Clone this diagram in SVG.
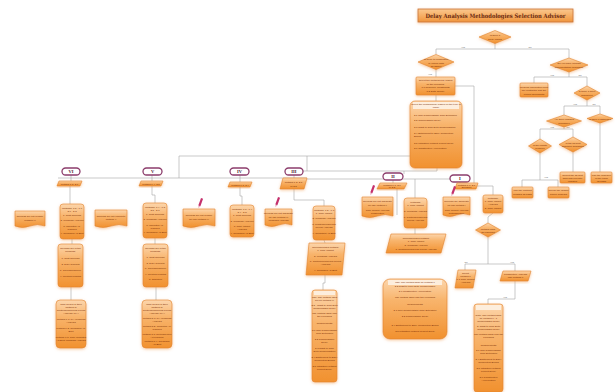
<svg xmlns="http://www.w3.org/2000/svg" width="615" height="392" viewBox="0 0 615 392">
<defs>
<linearGradient id="g" x1="0" y1="0" x2="0" y2="1"><stop offset="0" stop-color="#fcd6ad"/><stop offset="0.35" stop-color="#f8b46c"/><stop offset="1" stop-color="#f1912f"/></linearGradient>
<linearGradient id="gt" x1="0" y1="0" x2="0" y2="1"><stop offset="0" stop-color="#fbc88f"/><stop offset="1" stop-color="#f0953c"/></linearGradient>
<filter id="sh" x="-30%" y="-30%" width="160%" height="160%"><feDropShadow dx="0" dy="1" stdDeviation="1.4" flood-color="#f2a25a" flood-opacity="0.6"/></filter>
<g id="pen"><rect x="-1.1" y="-6" width="2.2" height="8" fill="#c4306c"/><polygon points="-1.1,2 1.1,2 0,4.5" fill="#e8b0c0"/></g>
</defs>
<style>
.n{fill:url(#g);stroke:#e0842f;stroke-width:0.6;filter:url(#sh)}
.l{fill:none;stroke:#a4a4a4;stroke-width:0.6}
.o{fill:#fff;stroke:#8c3d6c;stroke-width:1.3}
.t{font-family:"Liberation Sans",Arial,sans-serif;font-size:2.5px;fill:#7a2c04;text-anchor:middle}
.tl{font-family:"Liberation Sans",Arial,sans-serif;font-size:2.5px;fill:#7a2c04;text-anchor:start}
.r{font-family:"Liberation Serif","Times New Roman",serif;font-size:4.5px;font-weight:bold;fill:#4a2030;text-anchor:middle}
.y{font-family:"Liberation Sans",Arial,sans-serif;font-size:2.4px;fill:#666;text-anchor:middle}
</style>

<g id="connectors">
<polyline class="l" points="495,43.5 495,49"/>
<polyline class="l" points="436,54.5 436,49 569,49 569,58"/>
<polyline class="l" points="436,69.5 436,77"/>
<polyline class="l" points="436,95 436,101"/>
<polyline class="l" points="455,86 474,86 474,183"/>
<polyline class="l" points="569,72 569,77"/>
<polyline class="l" points="534,83 534,77 587,77 587,86"/>
<polyline class="l" points="587,100 587,106"/>
<polyline class="l" points="564,115 564,106 600,106 600,114"/>
<polyline class="l" points="564,127 564,129"/>
<polyline class="l" points="540,139 540,129 573,129 573,137"/>
<polyline class="l" points="540,153 540,180"/>
<polyline class="l" points="522,187 522,180 558,180 558,187"/>
<polyline class="l" points="573,152 573,172"/>
<polyline class="l" points="600,123 600,172"/>
<polyline class="l" points="410,156 179,156 179,178"/>
<polyline class="l" points="58,178 307,178"/>
<polyline class="l" points="307,156 307,171"/>
<polyline class="l" points="303,171 437,171 437,168"/>
<polyline class="l" points="307,179 455,179"/>
<polyline class="l" points="404,174 404,171"/>
<polyline class="l" points="71,175 71,181"/>
<polyline class="l" points="70,186 70,204"/>
<polyline class="l" points="72,239 72,244"/>
<polyline class="l" points="71,287 71,300"/>
<polyline class="l" points="152,175 152,181"/>
<polyline class="l" points="152,186 152,195 155,195 155,203"/>
<polyline class="l" points="155,238 155,244"/>
<polyline class="l" points="156,287 156,300"/>
<polyline class="l" points="240,175 240,182"/>
<polyline class="l" points="240,187 240,196 242,196 242,205"/>
<polyline class="l" points="294,175 294,178"/>
<polyline class="l" points="294,189 294,200 324,200 324,206"/>
<polyline class="l" points="324,240 325,243"/>
<polyline class="l" points="325,275 325,283 323,283 323,290"/>
<polyline class="l" points="393,180 393,183"/>
<polyline class="l" points="415,179 415,198"/>
<polyline class="l" points="397,189 397,215"/>
<polyline class="l" points="415,228 415,234"/>
<polyline class="l" points="460,182 460,183"/>
<polyline class="l" points="477,186 493,186 493,195"/>
<polyline class="l" points="493,213 488,217 488,223"/>
<polyline class="l" points="488,237 488,264"/>
<polyline class="l" points="465,270 465,264 515,264 515,271"/>
<polyline class="l" points="515,281 515,299 488,299 488,304"/>
<text class="y" x="463" y="47.5">Yes</text>
<text class="y" x="530" y="47.5">No</text>
<text class="y" x="430" y="75">Yes</text>
<text class="y" x="552" y="76">Yes</text>
<text class="y" x="580" y="76">No</text>
<text class="y" x="575" y="105">Yes</text>
<text class="y" x="594" y="105">No</text>
<text class="y" x="552" y="128">Yes</text>
<text class="y" x="568" y="128">No</text>
<text class="y" x="546" y="178">Yes</text>
<text class="y" x="466" y="262.5">No</text>
<text class="y" x="512" y="262.5">Yes</text>
<text class="y" x="505" y="298">Yes</text>
</g>

<g id="title"><rect x="418" y="9" width="155" height="13" fill="url(#gt)" stroke="#c8743a" stroke-width="0.8" filter="url(#sh)"/><text x="495.5" y="17.6" font-family="'DejaVu Serif','Liberation Serif',serif" font-size="6" font-weight="bold" fill="#6a2a10" text-anchor="middle" textLength="140" lengthAdjust="spacingAndGlyphs">Delay Analysis Methodologies Selection Advisor</text></g>

<g id="d0"><polygon class="n" points="495,30.5 511,37 495,43.5 479,37"/><text class="t" x="495" y="36">Is there a</text><text class="t" x="495" y="39.5">delay claim?</text></g>
<g id="d1"><polygon class="n" points="436,54.5 454,62 436,69.5 418,62"/><text class="t" x="436" y="60">Is delay to completion</text><text class="t" x="436" y="63.5">or critical path</text><text class="t" x="436" y="67">an issue?</text></g>
<g id="r1"><rect class="n" x="416" y="77" width="39" height="18" rx="1"/><text class="t" x="435.5" y="81">Select the methodology based</text><text class="t" x="435.5" y="84.5">on the following:</text><text class="t" x="435.5" y="88">1.1 Resource Constraints</text><text class="t" x="435.5" y="91.5">1.2 Data Quality</text></g>
<g id="bb"><rect class="n" x="410" y="101" width="52" height="67" rx="5"/><rect x="413" y="102" width="46" height="7" fill="#fdeedd"/><text class="t" x="436" y="105">Select the methodology based on the type of</text><text class="t" x="436" y="108">claim:</text><text class="tl" x="414" y="116">2.1 Non-Compensable Time Extension</text><text class="tl" x="414" y="121">2.2 Compensable Delay</text><text class="tl" x="414" y="128">2.3 Right to Time Extn Compensation</text><text class="tl" x="414" y="134">2.4 Entitlement to Early Completion</text><text class="tl" x="414" y="137">Bonus</text><text class="tl" x="414" y="144">2.5 Mitigation Without Project Delay</text><text class="tl" x="414" y="149">2.6 Constructive Acceleration</text></g>

<g id="d2"><polygon class="n" points="569,58 588,65 569,72 550,65"/><text class="t" x="569" y="64">Do you have enough</text><text class="t" x="569" y="67.5">documentation available?</text></g>
<g id="r2"><rect class="n" x="520" y="83" width="28" height="14" rx="1"/><text class="t" x="534" y="87.5">Request information from</text><text class="t" x="534" y="91">the contractor and the</text><text class="t" x="534" y="94.5">project documents</text></g>
<g id="d3"><polygon class="n" points="587,86 600,93 587,100 574,93"/><text class="t" x="587" y="92">Is there a CPM</text><text class="t" x="587" y="95.5">schedule?</text></g>
<g id="d4"><polygon class="n" points="564,115 581.5,121 564,127 546.5,121"/><text class="t" x="564" y="120">Are there updates</text><text class="t" x="564" y="123.5">available?</text></g>
<g id="d5"><polygon class="n" points="600,114 613,118.5 600,123 587,118.5"/><text class="t" x="600" y="119.5">Is there a baseline?</text></g>
<g id="d6"><polygon class="n" points="540,139 551.5,146 540,153 528.5,146"/><text class="t" x="540" y="145.5">Is the update</text><text class="t" x="540" y="149">reliable?</text></g>
<g id="d7"><polygon class="n" points="573,137 587,144.5 573,152 559,144.5"/><text class="t" x="573" y="143.5">Is the as-built</text><text class="t" x="573" y="147">schedule available?</text></g>
<g id="a"><rect class="n" x="512" y="187" width="21" height="11" rx="1"/><text class="t" x="522.5" y="191">Use the contract</text><text class="t" x="522.5" y="194.5">updates as basis</text></g>
<g id="b"><rect class="n" x="548" y="187" width="21" height="11" rx="1"/><text class="t" x="558.5" y="191">Revise the update</text><text class="t" x="558.5" y="194.5">before analysis</text></g>
<g id="c"><rect class="n" x="560" y="172" width="25" height="11" rx="1"/><text class="t" x="572.5" y="175.5">Collect the as-built</text><text class="t" x="572.5" y="178.5">data and recreate</text><text class="t" x="572.5" y="181.5">updates</text></g>
<g id="d"><rect class="n" x="591" y="172" width="21" height="11" rx="1"/><text class="t" x="601.5" y="175.5">Use the schedule</text><text class="t" x="601.5" y="178.5">of the claim</text><text class="t" x="601.5" y="181.5">as basis</text></g>

<g id="o6"><rect class="o" x="62" y="168" width="18" height="7" rx="3.5"/><text class="r" x="71" y="173.4">VI</text></g>
<g id="o5"><rect class="o" x="143" y="168" width="19" height="7" rx="3.5"/><text class="r" x="152.5" y="173.4">V</text></g>
<g id="o4"><rect class="o" x="230" y="168" width="19" height="7" rx="3.5"/><text class="r" x="239.5" y="173.4">IV</text></g>
<g id="o3"><rect class="o" x="285" y="168" width="18" height="7" rx="3.5"/><text class="r" x="294" y="173.4">III</text></g>
<g id="o2"><rect class="o" x="383" y="173" width="20" height="7" rx="3.5"/><text class="r" x="393" y="178.4">II</text></g>
<g id="o1"><rect class="o" x="450" y="175" width="20" height="7" rx="3.5"/><text class="r" x="460" y="180.4">I</text></g>

<g id="p6"><polygon class="n" points="59,181 82,181 80,186 57,186"/><text class="t" x="69.5" y="184.5">Method 1.5, 2.6</text></g>
<g id="p5"><polygon class="n" points="141,181 163,181 161,186 139,186"/><text class="t" x="151" y="184.5">Method 1.4, 2.5</text></g>
<g id="p4"><polygon class="n" points="230,182 252,182 250,187 228,187"/><text class="t" x="240" y="185.5">Method 1.3, 2.4</text></g>
<g id="p3"><polygon class="n" points="283,178 307,178 304,189 280,189"/><text class="t" x="293.5" y="182.5">Method 1.2, 2.3</text><text class="t" x="293.5" y="186.5">or 2.2</text></g>
<g id="p2"><polygon class="n" points="380,183 407,183 404,189 377,189"/><text class="t" x="392" y="185.8">Method 1.1, 2.1</text><text class="t" x="392" y="188.3">or 2.2</text></g>
<g id="p1"><polygon class="n" points="457,183 478,183 476,189 455,189"/><text class="t" x="466.5" y="185.8">Method 1.0, 2.1</text><text class="t" x="466.5" y="188.3">Decision</text></g>

<g id="doc6"><path class="n" d="M15,211 h30 v15 q-7.5,-3 -15,0 t-15,0 z"/><text class="t" x="30" y="217">Records are not reliable</text><text class="t" x="30" y="220.5">Method VI</text></g>
<g id="doc5"><path class="n" d="M95,210 h32 v16 q-8,-3 -16,0 t-16,0 z"/><text class="t" x="111" y="216.5">Records are not complete</text><text class="t" x="111" y="220">Method V</text></g>
<g id="doc4"><path class="n" d="M183,209 h32 v17 q-8,-3 -16,0 t-16,0 z"/><text class="t" x="199" y="216">Records are not reliable</text><text class="t" x="199" y="219.5">for use  Method IV</text><use href="#pen" transform="translate(200,204) rotate(20)"/></g>
<g id="doc3"><path class="n" d="M265,209 h27 v16 q-6.75,-3 -13.5,0 t-13.5,0 z"/><text class="t" x="278.5" y="214">Records are not adequate</text><text class="t" x="278.5" y="217.5">for use  Method III</text><text class="t" x="278.5" y="221">Windows Analysis</text><use href="#pen" transform="translate(277,203) rotate(20)"/></g>
<g id="doc2"><path class="n" d="M362,197 h31 v19 q-7.75,-3 -15.5,0 t-15.5,0 z"/><text class="t" x="377.5" y="202">Records are not adequate</text><text class="t" x="377.5" y="205.5">for use  Method II</text><text class="t" x="377.5" y="211">Time Impact Analysis</text><text class="t" x="377.5" y="214">Prospective</text><use href="#pen" transform="translate(372,191) rotate(20)"/></g>
<g id="doc1"><path class="n" d="M443,197 h27 v18 q-6.75,-3 -13.5,0 t-13.5,0 z"/><text class="t" x="456.5" y="202">Records are adequate</text><text class="t" x="456.5" y="205.5">for use  Method I</text><text class="t" x="456.5" y="211">Time Impact Analysis</text><text class="t" x="456.5" y="214">Retrospective</text><use href="#pen" transform="translate(453,192) rotate(20)"/></g>

<g id="b6a"><rect class="n" x="60" y="204" width="24" height="35" rx="3"/><text class="t" x="72" y="209">Methods: 1.5 - 1.6</text><text class="t" x="72" y="212">2.6 - 2.8</text><text class="t" x="72" y="215.5">1. Cost Records</text><text class="t" x="72" y="221">2. Windows Analysis</text><text class="t" x="72" y="226.5">3. Impacted As-</text><text class="t" x="72" y="229.5">Planned</text><text class="t" x="72" y="234">4. Collapsed As-Built</text></g>
<g id="b6b"><rect class="n" x="58" y="244" width="25" height="43" rx="3"/><text class="t" x="70.5" y="249">Records are of the</text><text class="t" x="70.5" y="252">following:</text><text class="t" x="70.5" y="259">1. Cost Records</text><text class="t" x="70.5" y="265">2. Daily Reports</text><text class="t" x="70.5" y="271">3. Correspondence</text><text class="t" x="70.5" y="277">4. Meeting Minutes</text></g>
<g id="b6c"><rect class="n" x="56" y="300" width="30" height="48" rx="4"/><text class="t" x="71" y="305">Time delays in their</text><text class="t" x="71" y="308">method of</text><text class="t" x="71" y="311">Contemporaneous Period</text><text class="t" x="71" y="314">Analysis (TIA)</text><text class="t" x="71" y="320">Method 6.1: TIA Windows</text><text class="t" x="71" y="323">Analysis</text><text class="t" x="71" y="329">Method 6.2: Collapsed As-</text><text class="t" x="71" y="332">Built</text><text class="t" x="71" y="338">Method 6.3: Time Impacted</text><text class="t" x="71" y="341">As-Built Windows Analysis</text></g>

<g id="b5a"><rect class="n" x="143" y="203" width="24" height="35" rx="3"/><text class="t" x="155" y="208">Methods: 1.4 - 1.5</text><text class="t" x="155" y="211">2.5 - 2.6</text><text class="t" x="155" y="214.5">1. Cost Records</text><text class="t" x="155" y="220">2. Windows Analysis</text><text class="t" x="155" y="225.5">3. Impacted As-</text><text class="t" x="155" y="228.5">Planned</text><text class="t" x="155" y="233">4. Collapsed As-Built</text></g>
<g id="b5b"><rect class="n" x="143" y="244" width="25" height="43" rx="3"/><text class="t" x="155.5" y="249">Records are of the</text><text class="t" x="155.5" y="252">following:</text><text class="t" x="155.5" y="258">1. Cost Records</text><text class="t" x="155.5" y="263.5">2. Daily Reports</text><text class="t" x="155.5" y="269">3. Correspondence</text><text class="t" x="155.5" y="274.5">4. Meeting Minutes</text><text class="t" x="155.5" y="280">5. Schedule</text></g>
<g id="b5c"><rect class="n" x="142" y="300" width="30" height="48" rx="4"/><text class="t" x="157" y="305">Time delays in their</text><text class="t" x="157" y="308">method of</text><text class="t" x="157" y="311">Contemporaneous Period</text><text class="t" x="157" y="314">Analysis (TIA)</text><text class="t" x="157" y="319">Method 5.1: TIA Windows</text><text class="t" x="157" y="322">Analysis</text><text class="t" x="157" y="327">Method 5.2: Impacted As-</text><text class="t" x="157" y="330">Planned</text><text class="t" x="157" y="335">Method 5.3: Retrospective</text><text class="t" x="157" y="338">As-Planned</text><text class="t" x="157" y="342">Method 5.4: Collapsed</text><text class="t" x="157" y="345">As-Built</text></g>

<g id="b4a"><rect class="n" x="230" y="205" width="24" height="32" rx="3"/><text class="t" x="242" y="210">Methods: 1.3 - 1.4</text><text class="t" x="242" y="213">2.4 - 2.5</text><text class="t" x="242" y="216">1. Cost Records</text><text class="t" x="242" y="221.5">2. Windows Analysis</text><text class="t" x="242" y="226.5">3. Time Impact</text><text class="t" x="242" y="229.5">Analysis</text><text class="t" x="242" y="234">4. Collapsed As-Built</text></g>

<g id="b3a"><rect class="n" x="313" y="206" width="22" height="34" rx="3"/><text class="t" x="324" y="211">Methods: 1.2 - 1.3</text><text class="t" x="324" y="214">1. Time Impact</text><text class="t" x="324" y="219">2. Windows Analysis</text><text class="t" x="324" y="224.5">3. Contemporaneous</text><text class="t" x="324" y="227.5">Period Analysis</text><text class="t" x="324" y="234">4. Collapsed As-Built</text></g>
<g id="b3p"><polygon class="n" points="309,243 345,243 342,275 306,275"/><text class="t" x="325.5" y="248">Recommended Method:</text><text class="t" x="325.5" y="251">1. Time Impact</text><text class="t" x="325.5" y="256.5">2. Windows Analysis</text><text class="t" x="325.5" y="262">3. Contemporaneous Period</text><text class="t" x="325.5" y="265">Analysis</text><text class="t" x="325.5" y="271">4. Collapsed As-Built</text></g>
<g id="b3c"><rect class="n" x="312" y="290" width="25" height="92" rx="3"/><rect x="314" y="291" width="21" height="4" fill="#fdeedd"/><text class="t" x="324.5" y="298">Use: The Method used</text><text class="t" x="324.5" y="301">will be Method III</text><text class="t" x="324.5" y="306">2.2 - Right to Time Extn</text><text class="t" x="324.5" y="309">Compensable Delay</text><text class="t" x="324.5" y="314">The Method Shall Use</text><text class="t" x="324.5" y="317">the Following</text><text class="t" x="324.5" y="324">Requirements</text><text class="t" x="324.5" y="331">2.1 Non-Compensable</text><text class="t" x="324.5" y="334">Time Extension</text><text class="t" x="324.5" y="340">2.2 Compensable</text><text class="t" x="324.5" y="343">Delay</text><text class="t" x="324.5" y="349">2.3 Right to Time</text><text class="t" x="324.5" y="352">Extn Compensation</text><text class="t" x="324.5" y="358">2.4 Entitlement to Early</text><text class="t" x="324.5" y="361">Completion Bonus</text><text class="t" x="324.5" y="367">2.5 Mitigation Without</text><text class="t" x="324.5" y="370">Project Delay</text></g>

<g id="b2a"><rect class="n" x="404" y="198" width="23" height="30" rx="3"/><text class="t" x="415.5" y="203">Methods:</text><text class="t" x="415.5" y="206">1. Time Impact</text><text class="t" x="415.5" y="212">2. Windows Analysis</text><text class="t" x="415.5" y="218">3. Contemporaneous</text><text class="t" x="415.5" y="221">Period Analysis</text></g>
<g id="b2p"><polygon class="n" points="391,234 446,234 441,253 386,253"/><text class="t" x="416" y="238.5">Recommended Method:</text><text class="t" x="416" y="241.5">1. Time Impact</text><text class="t" x="416" y="245.5">2. Windows Analysis</text><text class="t" x="416" y="249.5">3. Contemporaneous Period Analysis</text></g>

<g id="b1a"><rect class="n" x="483" y="195" width="20" height="18" rx="2"/><text class="t" x="493" y="199">Methods:</text><text class="t" x="493" y="202">1. Time Impact</text><text class="t" x="493" y="205">Analysis</text><text class="t" x="493" y="209">2. Time Impact</text></g>
<g id="d8"><polygon class="n" points="488,223 500.5,230 488,237 475.5,230"/><text class="t" x="488" y="229.5">Method used</text><text class="t" x="488" y="232.5">as planned?</text></g>
<g id="p1l"><polygon class="n" points="458,270 476,270 473,288 455,288"/><text class="t" x="465.5" y="274">Select</text><text class="t" x="465.5" y="277">Method 1</text><text class="t" x="465.5" y="280">1.1 Time Impact</text><text class="t" x="465.5" y="283">Analysis</text></g>
<g id="p1r"><polygon class="n" points="503,271 531,271 528,281 500,281"/><text class="t" x="515.5" y="275">Prospective Analysis</text><text class="t" x="515.5" y="278">Use Method II</text></g>
<g id="b1c"><rect class="n" x="474" y="304" width="29" height="88" rx="3"/><rect x="476" y="305" width="25" height="5" fill="#fdeedd"/><text class="t" x="488.5" y="316">Note: The Method shall</text><text class="t" x="488.5" y="319">be Method II - 1</text><text class="t" x="488.5" y="322">Compensable Delay</text><text class="t" x="488.5" y="327">2. Right to Time Extn</text><text class="t" x="488.5" y="330">Compensable Delay</text><text class="t" x="488.5" y="335">The Method Shall Use the</text><text class="t" x="488.5" y="338">Following</text><text class="t" x="488.5" y="346">Requirements</text><text class="t" x="488.5" y="351">2.1 Non-Compensable</text><text class="t" x="488.5" y="354">Time Extension</text><text class="t" x="488.5" y="360">2.4 Entitlement to Early</text><text class="t" x="488.5" y="363">Completion Bonus</text><text class="t" x="488.5" y="369">2.5 Mitigation Without</text><text class="t" x="488.5" y="372">Project Delay</text><text class="t" x="488.5" y="378">2.6 Constructive</text><text class="t" x="488.5" y="381">Acceleration</text></g>

<g id="bm"><rect class="n" x="383" y="279" width="64" height="60" rx="7"/><rect x="388" y="280" width="54" height="5" fill="#fdeedd"/><text class="t" x="415" y="283">Use: The Method shall be Method II</text><text class="t" x="415" y="286.5">2.2 Right to Time Extn Compensable</text><text class="t" x="415" y="292">2.6 Constructive Acceleration</text><text class="t" x="415" y="297.5">The Method Shall Use the Following</text><text class="t" x="415" y="305">Requirements</text><text class="t" x="415" y="311">2.1 Non-Compensable Time Extension</text><text class="t" x="415" y="317">2.2 Compensable Delay</text><text class="t" x="415" y="326">2.4 Entitlement to Early Completion Bonus</text><text class="t" x="415" y="332">2.5 Mitigation Without Project Delay</text></g>
</svg>
